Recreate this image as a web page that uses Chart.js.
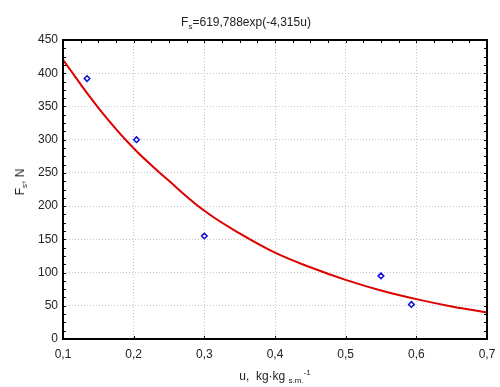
<!DOCTYPE html>
<html>
<head>
<meta charset="utf-8">
<script src="https://cdn.jsdelivr.net/npm/chart.js@4/dist/chart.umd.min.js"></script>
<style>
  html, body { margin: 0; padding: 0; background: #fff; }
  #wrap { position: relative; width: 500px; height: 387px; }
  canvas { position: absolute; left: 0; top: 0; }
  .lbl { position: absolute; font-family: "Liberation Sans", Arial, sans-serif; font-size: 12px; color: #222; line-height: 1; white-space: nowrap; }
  .lbl sub { font-size: 8px; vertical-align: -3px; line-height: 0; }
  .lbl sup { font-size: 8px; vertical-align: 5px; line-height: 0; }
  #title { left: 246px; top: 22px; transform: translate(-50%, -50%); }
  #xlab { left: 275px; top: 376px; transform: translate(-50%, -50%); }
  #ylab { left: 20px; top: 182px; transform: translate(-50%, -50%) rotate(-90deg); }
</style>
</head>
<body>
<div id="wrap">
  <canvas id="c" width="500" height="387"></canvas>
  <div class="lbl" id="title">F<sub>s</sub>=619,788exp(-4,315u)</div>
  <div class="lbl" id="ylab">F<sub>s</sub>, N</div>
  <div class="lbl" id="xlab">u,&nbsp; kg·kg <sub>s.m.</sub><sup>-1</sup></div>
</div>
<script>
// Measured points
const pointU = [0.134, 0.204, 0.300, 0.550, 0.593];
const pointF = [392, 300, 155, 95, 52];
// Fitted curve
const curveU = [0.10, 0.15, 0.20, 0.25, 0.30, 0.35, 0.40, 0.45, 0.50, 0.55, 0.60, 0.65, 0.70];
const curveF = [420, 348, 287, 238, 193, 159, 130, 108, 89, 73, 60, 49, 40];
// Axis ticks
const xTicks = [0.1, 0.2, 0.3, 0.4, 0.5, 0.6, 0.7];
const yTicks = [0, 50, 100, 150, 200, 250, 300, 350, 400, 450];

const FONT = { family: '"Liberation Sans", Arial, sans-serif', size: 12 };

const framePlugin = {
  id: 'frame',
  afterDraw(chart) {
    const { ctx, chartArea: a, scales } = chart;
    const xs = scales.x, ys = scales.y;
    ctx.save();
    ctx.strokeStyle = '#000';
    ctx.lineWidth = 1;
    const L = 3;
    ctx.beginPath();
    for (let i = 0; i < yTicks.length - 1; i++) {
      const step = (yTicks[i + 1] - yTicks[i]) / 4;
      for (let k = 0; k <= 4; k++) {
        const py = Math.round(ys.getPixelForValue(yTicks[i] + k * step)) + 0.5;
        ctx.moveTo(a.left, py); ctx.lineTo(a.left + L, py);
        ctx.moveTo(a.right, py); ctx.lineTo(a.right - L, py);
      }
    }
    for (let i = 0; i < xTicks.length - 1; i++) {
      const step = (xTicks[i + 1] - xTicks[i]) / 4;
      for (let k = 0; k <= 4; k++) {
        const px = Math.round(xs.getPixelForValue(xTicks[i] + k * step)) + 0.5;
        ctx.moveTo(px, a.top); ctx.lineTo(px, a.top + L);
      }
    }
    xTicks.forEach(v => {
      const px = Math.round(xs.getPixelForValue(v)) + 0.5;
      ctx.moveTo(px, a.bottom); ctx.lineTo(px, a.bottom - L);
    });
    ctx.stroke();
    ctx.lineWidth = 2;
    ctx.strokeRect(a.left, a.top, a.right - a.left, a.bottom - a.top);
    ctx.restore();
  }
};

new Chart(document.getElementById('c'), {
  type: 'scatter',
  data: {
    datasets: [
      {
        label: 'pomiary',
        data: pointU.map((u, i) => ({ x: u, y: pointF[i] })),
        showLine: false,
        pointStyle: 'rectRot',
        pointRadius: 2.8,
        pointBorderWidth: 1.5,
        pointBorderColor: '#1010d0',
        pointBackgroundColor: '#ffffff'
      },
      {
        label: 'model',
        data: curveU.map((u, i) => ({ x: u, y: curveF[i] })),
        showLine: true,
        pointRadius: 0,
        borderColor: '#dd0000',
        borderWidth: 2,
        tension: 0.4,
        fill: false
      }
    ]
  },
  options: {
    responsive: false,
    animation: false,
    devicePixelRatio: 1,
    layout: { padding: { top: 40, right: 13, bottom: 0, left: 0 } },
    plugins: { legend: { display: false }, tooltip: { enabled: false }, title: { display: false } },
    scales: {
      x: {
        type: 'linear',
        min: 0.1, max: 0.7,
        afterBuildTicks: s => { s.ticks = xTicks.map(v => ({ value: v })); },
        afterFit: s => { s.height = 48; s.paddingLeft = 0; s.paddingRight = 0; },
        ticks: {
          font: FONT, color: '#222', padding: 8, maxRotation: 0,
          callback: v => v.toFixed(1).replace('.', ',')
        },
        grid: { color: '#c4c4c4', lineWidth: 1, drawTicks: false },
        border: { display: false, dash: [1, 2] }
      },
      y: {
        type: 'linear',
        min: 0, max: 450,
        afterBuildTicks: s => { s.ticks = yTicks.map(v => ({ value: v })); },
        afterFit: s => { s.width = 63; s.paddingTop = 0; s.paddingBottom = 0; },
        ticks: { font: FONT, color: '#222', padding: 5, callback: v => String(v) },
        grid: { color: '#c4c4c4', lineWidth: 1, drawTicks: false },
        border: { display: false, dash: [1, 2] }
      }
    }
  },
  plugins: [framePlugin]
});
</script>
</body>
</html>
